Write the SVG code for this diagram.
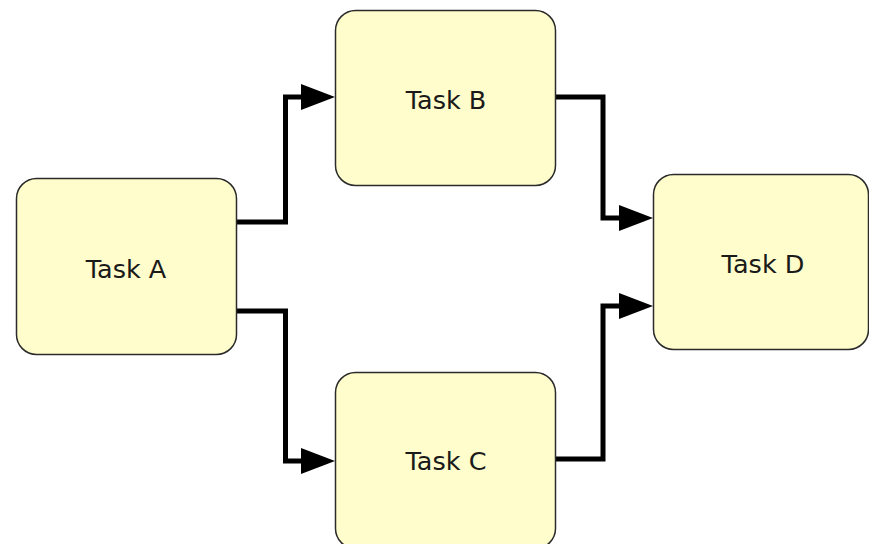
<svg xmlns="http://www.w3.org/2000/svg" width="869" height="544" viewBox="0 0 869 544">
  <style>
    .box { fill: #fefdcb; stroke: #2b2b2b; stroke-width: 1.5; }
    .label { font-family: "DejaVu Sans", "Liberation Sans", sans-serif; font-size: 25.5px; fill: #1a1a1a; text-anchor: middle; }
    .flow { fill: none; stroke: #000; stroke-width: 5; stroke-linejoin: miter; stroke-linecap: butt; }
  </style>
  <defs>
    <marker id="arrow" markerUnits="userSpaceOnUse" markerWidth="34" markerHeight="26" refX="4" refY="13" orient="auto">
      <path d="M0,0 L34,13 L0,26 Z" fill="#000"/>
    </marker>
  </defs>
  <rect width="869" height="544" fill="#fff"/>

  <g id="connectors">
    <path class="flow" d="M236,222 H285.5 V97 H305" marker-end="url(#arrow)"/>
    <path class="flow" d="M236,311 H285.5 V461 H305" marker-end="url(#arrow)"/>
    <path class="flow" d="M555,97 H603 V218 H623" marker-end="url(#arrow)"/>
    <path class="flow" d="M555,459 H603 V306 H623" marker-end="url(#arrow)"/>
  </g>

  <g id="task-a">
    <rect class="box" x="16.5" y="178.5" width="220" height="176" rx="20"/>
    <text class="label" x="126" y="277.5">Task A</text>
  </g>
  <g id="task-b">
    <rect class="box" x="335.5" y="10.5" width="220" height="175" rx="20"/>
    <text class="label" x="446" y="108.5">Task B</text>
  </g>
  <g id="task-c">
    <rect class="box" x="335.5" y="372.5" width="220" height="176" rx="20"/>
    <text class="label" x="446" y="470">Task C</text>
  </g>
  <g id="task-d">
    <rect class="box" x="653.5" y="174.5" width="215" height="175" rx="20"/>
    <text class="label" x="763" y="273">Task D</text>
  </g>
</svg>
